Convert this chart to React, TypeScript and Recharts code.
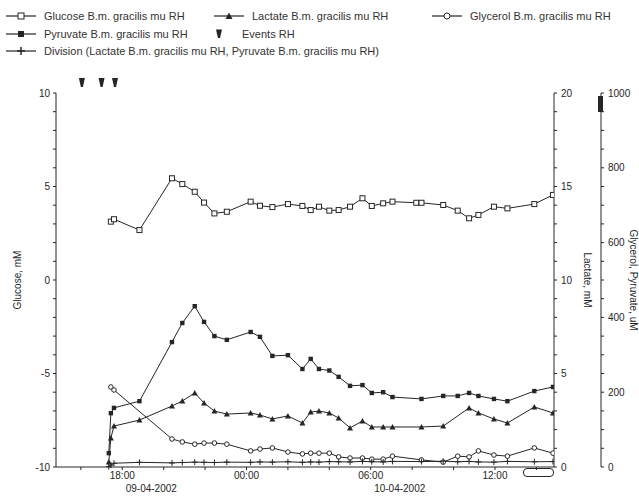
import React from 'react'
import { ComposedChart, Line, Scatter, XAxis, YAxis } from 'recharts'

// sample times, hours counted from 09-04-2002 00:00
const times = [17.35, 17.45, 17.6, 18.83, 20.4, 20.9, 21.5, 21.95, 22.45, 23.05, 24.2, 24.65, 25.25, 26.0, 26.7, 27.1, 27.5, 28.0, 28.45, 29.0, 29.6, 30.05, 30.6, 31.05, 32.2, 32.45, 33.5, 34.2, 34.75, 35.2, 35.95, 36.6, 37.9, 38.8]

// mM
const glucose = [null, 3.12, 3.25, 2.67, 5.44, 5.13, 4.72, 4.14, 3.56, 3.65, 4.19, 3.97, 3.9, 4.06, 3.96, 3.74, 3.92, 3.71, 3.74, 3.92, 4.37, 3.96, 4.1, 4.19, 4.13, 4.13, 4.01, 3.71, 3.3, 3.48, 3.92, 3.83, 4.06, 4.55]
// mM
const lactate = [0.27, 1.55, 2.19, 2.51, 3.26, 3.53, 3.96, 3.42, 2.99, 2.83, 2.89, 2.78, 2.57, 2.73, 2.35, 2.94, 2.99, 2.89, 2.62, 2.09, 2.46, 2.14, 2.14, 2.14, null, 2.14, 2.19, null, 3.16, 2.89, 2.57, 2.35, 3.21, 2.89]
// uM
const glycerol = [null, 214, 206, null, 75, 67, 61, 64, 64, 61, 43, 48, 51, 40, 35, 37, 37, 37, 27, 24, 24, 21, 21, 29, null, 19, 13, 29, 27, 43, 32, 29, 51, 37]
// uM
const pyruvate = [37, 144, 158, 176, 334, 385, 430, 388, 350, 340, 361, 348, 297, 299, 262, 289, 262, 258, 241, 217, 219, 198, 200, 187, null, 182, 190, 190, 198, 190, 182, 176, 203, 214]
// lactate / pyruvate
const division = [0.02, 0.1, 0.2, 0.25, 0.22, 0.24, 0.26, 0.25, 0.24, 0.26, 0.25, 0.27, 0.26, 0.28, 0.25, 0.27, 0.26, 0.29, 0.28, 0.27, 0.3, 0.28, 0.27, 0.3, null, 0.29, 0.31, 0.28, 0.3, 0.27, 0.26, 0.3, 0.28, 0.29]

const eventTimes = [16.05, 17.0, 17.65]

const hourTicks = [16, 18, 20, 22, 24, 26, 28, 30, 32, 34, 36, 38]
const dateTicks = [19.4, 31.4]
const dateLabels = ['09-04-2002', '10-04-2002']
const glucoseTicks = [-10, -9, -8, -7, -6, -5, -4, -3, -2, -1, 0, 1, 2, 3, 4, 5, 6, 7, 8, 9, 10]
const lactateTicks = [0, 1, 2, 3, 4, 5, 6, 7, 8, 9, 10, 11, 12, 13, 14, 15, 16, 17, 18, 19, 20]
const umTicks = [0, 50, 100, 150, 200, 250, 300, 350, 400, 450, 500, 550, 600, 650, 700, 750, 800, 850, 900, 950, 1000]

const rows = times.map((t, i) => ({
  t,
  glucose: glucose[i],
  lactate: lactate[i],
  glycerol: glycerol[i],
  pyruvate: pyruvate[i],
  division: division[i],
}))
const eventRows = eventTimes.map(t => ({ t, ev: 10 }))
const xTicks = [...hourTicks, ...dateTicks].sort((a, b) => a - b)

const INK = '#262626'
const FONT = '"Liberation Sans", Arial, sans-serif'

const hhmm = (v: number) => (v % 6 === 0 ? `${String(v % 24).padStart(2, '0')}:00` : '')

// hour ticks get a tick mark and (every 6 h) a label; date ticks only a second-row label
const TimeTick = (p: any) => {
  const v = p.payload.value
  const di = dateTicks.indexOf(v)
  if (di >= 0) {
    return (
      <text x={p.x} y={p.y + 18} dy="0.71em" textAnchor="middle" fontSize={10} fill={INK}>
        {dateLabels[di]}
      </text>
    )
  }
  return (
    <g>
      <line x1={p.x} y1={p.y} x2={p.x} y2={p.y + 3} stroke={INK} />
      <text x={p.x} y={p.y + 5} dy="0.71em" textAnchor="middle" fontSize={10} fill={INK}>
        {hhmm(v)}
      </text>
    </g>
  )
}

const skip = (p: any) => p.cx == null || p.cy == null || p.value == null

const openSquare = (p: any) =>
  skip(p) ? <g key={`gs${p.index}`} /> : (
    <rect key={`gs${p.index}`} x={p.cx - 2.5} y={p.cy - 2.5} width={5} height={5} fill="#fff" stroke={INK} strokeWidth={1} />
  )
const triangle = (p: any) =>
  skip(p) ? <g key={`lt${p.index}`} /> : (
    <path key={`lt${p.index}`} d={`M${p.cx},${p.cy - 3}L${p.cx + 3},${p.cy + 2.5}L${p.cx - 3},${p.cy + 2.5}Z`} fill={INK} />
  )
const openCircle = (p: any) =>
  skip(p) ? <g key={`gc${p.index}`} /> : (
    <circle key={`gc${p.index}`} cx={p.cx} cy={p.cy} r={2.3} fill="#fff" stroke={INK} strokeWidth={1} />
  )
const filledSquare = (p: any) =>
  skip(p) ? <g key={`ps${p.index}`} /> : (
    <rect key={`ps${p.index}`} x={p.cx - 2.2} y={p.cy - 2.2} width={4.4} height={4.4} fill={INK} />
  )
const plus = (p: any) =>
  skip(p) ? <g key={`dv${p.index}`} /> : (
    <path key={`dv${p.index}`} d={`M${p.cx - 3},${p.cy}H${p.cx + 3}M${p.cx},${p.cy - 3}V${p.cy + 3}`} stroke={INK} strokeWidth={1} />
  )

// event markers sit just above the plot frame
const eventShape = (p: any) => (
  <path d={`M${p.cx - 3},${p.cy - 15}H${p.cx + 3}L${p.cx + 1},${p.cy - 6}H${p.cx - 1}Z`} fill={INK} />
)

const axisTitle = (text: string, dx: number, angle: number) => (props: any) => {
  const vb = props.viewBox
  const x = vb.x + dx
  const y = vb.y + vb.height / 2
  return (
    <text x={x} y={y} transform={`rotate(${angle} ${x} ${y})`} textAnchor="middle" dominantBaseline="central" fontSize={10} fill={INK}>
      {text}
    </text>
  )
}

function Icon({ kind }: { kind: string }) {
  const line = kind !== 'event'
  return (
    <svg width={30} height={10} style={{ display: 'block' }}>
      {line && <line x1={0} y1={5} x2={30} y2={5} stroke={INK} strokeWidth={1.2} />}
      {kind === 'glucose' && <rect x={12} y={2} width={6} height={6} fill="#fff" stroke={INK} />}
      {kind === 'lactate' && <path d="M15,1.5L18.5,8L11.5,8Z" fill={INK} />}
      {kind === 'glycerol' && <circle cx={15} cy={5} r={3} fill="#fff" stroke={INK} />}
      {kind === 'pyruvate' && <rect x={12} y={2} width={6} height={6} fill={INK} />}
      {kind === 'division' && <path d="M11,5H19M15,1V9" stroke={INK} strokeWidth={1.5} />}
      {kind === 'event' && <path d="M12,0.5H18L16,9H14Z" fill={INK} />}
    </svg>
  )
}

const legendItems = [
  { kind: 'glucose', label: 'Glucose B.m. gracilis mu RH', x: 6, y: 10 },
  { kind: 'lactate', label: 'Lactate B.m. gracilis mu RH', x: 214, y: 10 },
  { kind: 'glycerol', label: 'Glycerol B.m. gracilis mu RH', x: 432, y: 10 },
  { kind: 'pyruvate', label: 'Pyruvate B.m. gracilis mu RH', x: 6, y: 28 },
  { kind: 'event', label: 'Events RH', x: 204, y: 28 },
  { kind: 'division', label: 'Division (Lactate B.m. gracilis mu RH, Pyruvate B.m. gracilis mu RH)', x: 6, y: 45 },
]

export default function App() {
  return (
    <div style={{ position: 'absolute', left: 0, top: 0, width: 639, height: 497, background: '#fff', fontFamily: FONT, overflow: 'hidden' }}>
      {legendItems.map(it => (
        <div key={it.label} style={{ position: 'absolute', left: it.x, top: it.y, display: 'flex', alignItems: 'center', fontSize: 11, color: '#333', whiteSpace: 'nowrap' }}>
          <Icon kind={it.kind} />
          <span style={{ marginLeft: 8 }}>{it.label}</span>
        </div>
      ))}
      <ComposedChart width={639} height={497} data={rows} margin={{ top: 93, right: 0, bottom: 0, left: 5 }}>
        <XAxis
          dataKey="t"
          type="number"
          domain={[14.8, 38.85]}
          allowDataOverflow
          ticks={xTicks}
          interval={0}
          tickLine={false}
          tickSize={0}
          tickMargin={0}
          height={30}
          stroke={INK}
          tick={TimeTick}
        />
        <YAxis
          yAxisId="g"
          domain={[-10, 10]}
          ticks={glucoseTicks}
          interval={0}
          tickFormatter={(v: number) => (v % 5 === 0 ? String(v) : '')}
          width={51}
          tickSize={3}
          tickMargin={3}
          stroke={INK}
          tick={{ fontSize: 10, fill: INK }}
          label={{ content: axisTitle('Glucose, mM', 12, -90) }}
        />
        <YAxis
          yAxisId="l"
          orientation="right"
          domain={[0, 20]}
          ticks={lactateTicks}
          interval={0}
          tickFormatter={(v: number) => (v % 5 === 0 ? String(v) : '')}
          width={47}
          tickSize={3}
          tickMargin={4}
          stroke={INK}
          tick={{ fontSize: 10, fill: INK }}
          label={{ content: axisTitle('Lactate, mM', 33, 90) }}
        />
        <YAxis
          yAxisId="u"
          orientation="right"
          domain={[0, 1000]}
          ticks={umTicks}
          interval={0}
          tickFormatter={(v: number) => (v % 200 === 0 ? String(v) : '')}
          width={38}
          tickSize={3}
          tickMargin={4}
          stroke={INK}
          tick={{ fontSize: 10, fill: INK }}
          label={{ content: axisTitle('Glycerol, Pyruvate, uM', 32, 90) }}
        />
        <Line yAxisId="g" dataKey="glucose" name="Glucose B.m. gracilis mu RH" stroke={INK} strokeWidth={1} dot={openSquare} connectNulls isAnimationActive={false} />
        <Line yAxisId="l" dataKey="lactate" name="Lactate B.m. gracilis mu RH" stroke={INK} strokeWidth={1} dot={triangle} connectNulls isAnimationActive={false} />
        <Line yAxisId="u" dataKey="glycerol" name="Glycerol B.m. gracilis mu RH" stroke={INK} strokeWidth={1} dot={openCircle} connectNulls isAnimationActive={false} />
        <Line yAxisId="u" dataKey="pyruvate" name="Pyruvate B.m. gracilis mu RH" stroke={INK} strokeWidth={1} dot={filledSquare} connectNulls isAnimationActive={false} />
        <Line yAxisId="l" dataKey="division" name="Division" stroke={INK} strokeWidth={1} dot={plus} connectNulls isAnimationActive={false} />
        <Scatter yAxisId="g" data={eventRows} dataKey="ev" name="Events RH" shape={eventShape} isAnimationActive={false} />
      </ComposedChart>
      {/* thick mark at the top of the uM axis, as in the original screen grab */}
      <div style={{ position: 'absolute', left: 598, top: 96, width: 5, height: 16, background: INK }} />
      {/* small rounded scroll box under the right end of the time axis */}
      <div style={{ position: 'absolute', left: 523, top: 468, width: 29, height: 7, border: `1px solid ${INK}`, borderRadius: 4 }} />
    </div>
  )
}
